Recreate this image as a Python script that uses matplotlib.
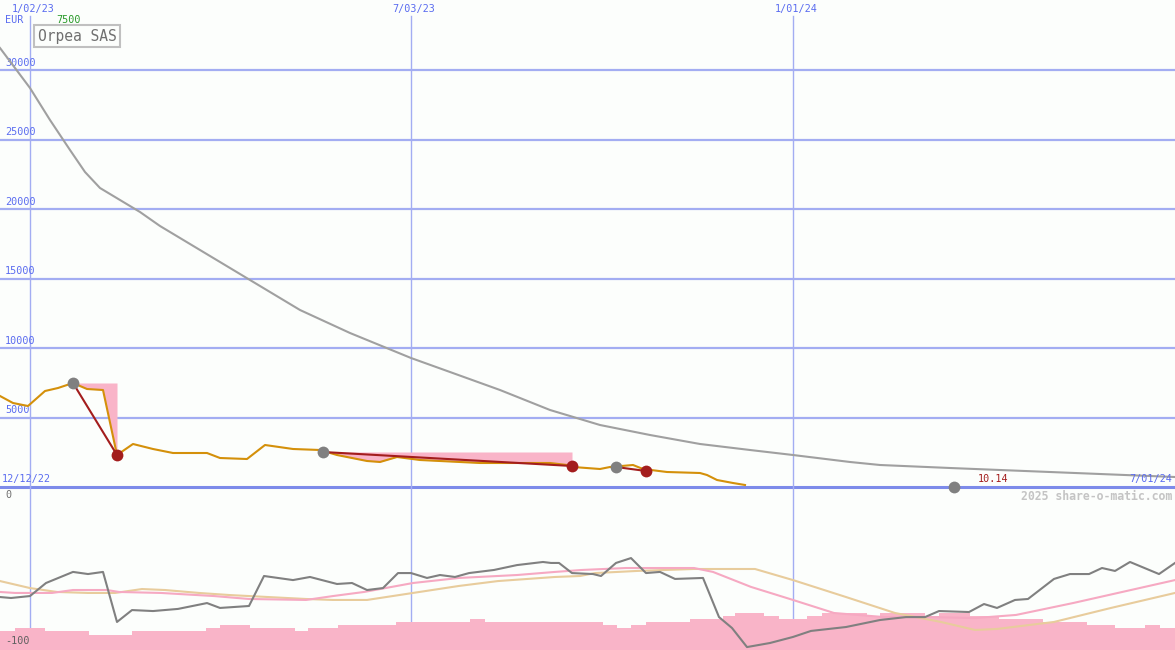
import numpy as np
import matplotlib.pyplot as plt

# x positions are in chart units (0..1175 across the plot)
# --- upper panel: price (EUR) ---
price_x = [0, 13, 28, 45, 58, 73, 87, 103, 117, 133, 153, 173, 207, 220, 247, 265, 293, 320,
           337, 367, 380, 397, 420, 480, 550, 567, 573, 600, 610, 633, 643, 667, 700, 707,
           717, 733, 745]
price_y = [6547, 6043, 5827, 6906, 7122, 7482, 7050, 6978, 2302, 3094, 2734, 2446, 2446, 2086,
           2014, 3022, 2734, 2662, 2302, 1871, 1799, 2158, 1942, 1727, 1727, 1583, 1439, 1295,
           1439, 1583, 1295, 1079, 1007, 863, 504, 288, 144]

ma_x = [0, 30, 50, 70, 85, 100, 120, 140, 160, 200, 250, 300, 350, 411, 450, 500, 550, 600,
        650, 700, 750, 793, 850, 880, 950, 1000, 1050, 1100, 1175]
ma_y = [31583, 28705, 26403, 24245, 22662, 21511, 20647, 19784, 18777, 17050, 14892, 12734,
        11079, 9281, 8273, 6978, 5540, 4460, 3741, 3094, 2662, 2302, 1799, 1583, 1367, 1223,
        1079, 935, 719]

# trades: entry (gray) -> exit (red)
entry_x = [73, 323, 616]
entry_y = [7482, 2518, 1439]
exit_x = [117, 572, 646]
exit_y = [2302, 1511, 1151]
open_x, open_y = 954, 0
last_price = "10.14"

y_ticks = [5000, 10000, 15000, 20000, 25000, 30000]
date_lines = [30, 411, 793]
date_labels = ["1/02/23", "7/03/23", "1/01/24"]

# --- lower panel: oscillator ---
osc_x = [0, 11, 30, 46, 73, 88, 103, 117, 132, 153, 178, 207, 220, 249, 264, 293, 310, 337,
         352, 367, 383, 398, 411, 427, 440, 455, 469, 494, 517, 543, 551, 559, 572, 593,
         601, 616, 631, 646, 660, 675, 703, 719, 732, 747, 770, 793, 811, 846, 880, 906,
         925, 939, 969, 984, 997, 1015, 1028, 1054, 1070, 1089, 1102, 1115, 1130, 1159, 1175]
osc_y = [-67.5, -68.1, -66.9, -58.9, -52.1, -53.4, -52.1, -82.8, -75.5, -76.1, -74.8, -71.2,
         -74.2, -73.0, -54.6, -57.1, -55.2, -59.5, -58.9, -63.2, -62.0, -52.8, -52.8, -55.8,
         -54.0, -55.2, -52.8, -50.9, -47.9, -46.0, -46.6, -46.6, -52.8, -53.4,
         -54.6, -46.6, -43.6, -52.8, -52.1, -56.4, -55.8, -79.8, -86.5, -98.2, -95.7, -92.0,
         -88.3, -85.9, -81.6, -79.8, -79.8, -76.1, -76.7, -71.8, -74.2, -69.3, -68.7, -56.4,
         -53.4, -53.4, -49.7, -51.5, -46.0, -53.4, -46.6]

sig1_x = [0, 15, 52, 73, 107, 119, 161, 214, 249, 306, 333, 364, 413, 459, 517, 555, 582,
          626, 694, 713, 751, 793, 834, 884, 929, 975, 1016, 1073, 1175]
sig1_y = [-64.4, -65.0, -65.0, -63.2, -63.2, -64.4, -65.0, -66.9, -68.7, -69.3, -66.9, -64.4,
          -58.9, -55.8, -54.0, -52.1, -50.9, -49.7, -49.7, -52.1, -61.3, -69.3, -77.3, -79.8,
          -79.8, -80.4, -78.5, -71.2, -57.1]

sig2_x = [0, 30, 57, 88, 115, 142, 165, 199, 230, 268, 306, 333, 367, 413, 459, 498, 555,
          580, 595, 637, 694, 755, 793, 846, 895, 941, 975, 997, 1054, 1111, 1175]
sig2_y = [-57.7, -62.0, -64.4, -65.0, -65.0, -62.6, -63.2, -65.0, -66.3, -67.5, -68.7, -69.3,
          -69.3, -65.0, -60.7, -57.7, -55.2, -54.6, -52.8, -51.5, -50.3, -50.3, -57.1, -67.5,
          -77.3, -82.8, -87.7, -87.1, -82.8, -74.2, -65.0]

hist_edges = [0, 15, 45, 89, 132, 206, 220, 250, 295, 308, 338, 396, 470, 485, 603, 617, 631,
              646, 690, 723, 735, 764, 779, 807, 822, 867, 880, 925, 939, 970, 999, 1043,
              1087, 1115, 1145, 1160, 1175]
hist_vals = [-88.3, -86.5, -88.3, -90.8, -88.3, -86.5, -84.7, -86.5, -88.3, -86.5, -84.7,
             -82.8, -81.0, -82.8, -84.7, -86.5, -84.7, -82.8, -81.0, -79.1, -77.3, -79.1,
             -81.0, -79.1, -77.3, -79.1, -77.3, -79.1, -77.3, -79.1, -81.0, -82.8, -84.7,
             -86.5, -84.7, -86.5, -86.5]

# colours
BG = '#fcfefc'
GRID = '#a3adf2'
ZERO = '#7d8bea'
TXT_BLUE = '#5a6cf0'
ORANGE = '#d4900a'
DARKRED = '#a31d1d'
PINK = '#f9b4c8'
MONO = 'DejaVu Sans Mono'

W, H = 1175, 650
fig = plt.figure(figsize=(11.75, 6.5), dpi=100, facecolor=BG)
ax = fig.add_axes([0, 163 / H, 1, 487 / H])
ax2 = fig.add_axes([0, 0, 1, 163 / H])
ymax = 487 / 13.9 * 1000
for a in (ax, ax2):
    a.set_facecolor(BG)
    a.set_xlim(0, W)
    a.axis('off')
ax.set_ylim(0, ymax)
ax2.set_ylim(-100, 0)

# grid
for v in y_ticks:
    ax.axhline(v, color=GRID, lw=1.6, zorder=1)
    ax.text(5, v + 150, str(v), color=TXT_BLUE, fontsize=7.3, family=MONO, va='bottom', ha='left')
ax.axhline(0, color=ZERO, lw=2.2, zorder=1, clip_on=False)
for xv in date_lines:
    ax.axvline(xv, ymax=(487 - 16) / 487, color=GRID, lw=1, zorder=1)
    ax2.axvline(xv, color=GRID, lw=1, zorder=1)

# upper series
ax.plot(ma_x, ma_y, color='#a0a0a0', lw=1.5, zorder=3)
px = np.array(price_x, float)
py = np.array(price_y, float)
for ex, ey, xx in zip(entry_x, entry_y, exit_x):
    xs = np.linspace(ex, xx, 200)
    ys = np.interp(xs, px, py)
    ax.fill_between(xs, ys, ey, where=ys <= ey, color=PINK, lw=0, zorder=2)
ax.plot(price_x, price_y, color=ORANGE, lw=1.5, zorder=4)
for ex, ey, xx, xy in zip(entry_x, entry_y, exit_x, exit_y):
    ax.plot([ex, xx], [ey, xy], color=DARKRED, lw=1.5, zorder=5)
ax.plot(entry_x, entry_y, 'o', color='#808080', ms=8.5, mew=0, zorder=6)
ax.plot(exit_x, exit_y, 'o', color=DARKRED, ms=8.5, mew=0, zorder=6)
ax.plot([open_x], [open_y], 'o', color='#808080', ms=8.5, mew=0, zorder=6, clip_on=False)
ax.text(978, 250, last_price, color=DARKRED, fontsize=7.3, family=MONO, va='bottom')
ax.text(2, 250, "12/12/22", color=TXT_BLUE, fontsize=7.3, family=MONO, va='bottom')
ax.text(1172, 250, "7/01/24", color=TXT_BLUE, fontsize=7.3, family=MONO, va='bottom', ha='right')

# lower series
ax2.fill_between(hist_edges, hist_vals, -100, step='post', color=PINK, lw=0, zorder=2)
ax2.plot(sig2_x, sig2_y, color='#e8cc9c', lw=1.5, zorder=3)
ax2.plot(sig1_x, sig1_y, color='#f6a9c2', lw=1.5, zorder=3)
ax2.plot(osc_x, osc_y, color='#808080', lw=1.5, zorder=4)

# text in pixel positions
def ftext(x, y, s, **kw):
    fig.text(x / W, 1 - y / H, s, family=MONO, va='center', **kw)

for xv, lab in zip(date_lines, date_labels):
    ftext(xv + 3, 9, lab, color=TXT_BLUE, fontsize=7.3, ha='center')
ftext(5, 20, "EUR", color=TXT_BLUE, fontsize=7.3)
ftext(56, 20, "7500", color='#2a9a2a', fontsize=7.3)
ftext(38, 36, "Orpea SAS", color='#707070', fontsize=10.5,
      bbox=dict(boxstyle='square,pad=0.25', fc=BG, ec='#c0c0c0', lw=1.5))
ftext(1172, 496, "2025 share-o-matic.com", color='#c4c4c4', fontsize=8.3, ha='right',
      fontweight='bold')
ftext(5, 495, "0", color='#707070', fontsize=7.3)
ftext(5, 641, "-100", color='#606060', fontsize=7.3, zorder=10)

fig.savefig('out.png', dpi=100, facecolor=BG)
